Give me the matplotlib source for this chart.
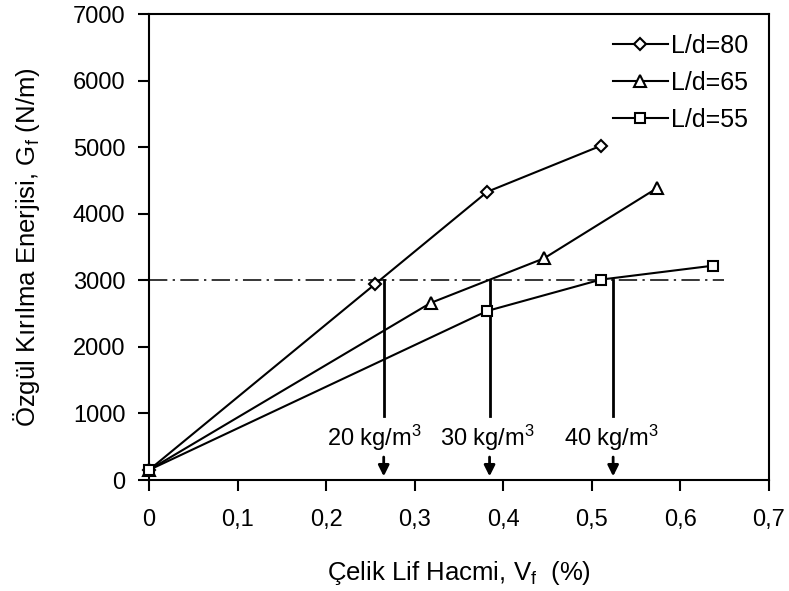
import matplotlib
matplotlib.use("Agg")
import matplotlib.pyplot as plt
from matplotlib.ticker import FixedLocator, FuncFormatter

plt.rcParams['font.family'] = ['Liberation Sans', 'DejaVu Sans']
plt.rcParams['mathtext.fontset'] = 'custom'
plt.rcParams['mathtext.rm'] = 'Liberation Sans'
plt.rcParams['mathtext.it'] = 'Liberation Sans:italic'

# Steel fibre volume fraction (%) and specific fracture energy (N/m)
vf_80 = [0.0, 0.255, 0.382, 0.510]
gf_80 = [150, 2940, 4330, 5020]
vf_65 = [0.0, 0.318, 0.446, 0.573]
gf_65 = [150, 2660, 3330, 4380]
vf_55 = [0.0, 0.382, 0.510, 0.637]
gf_55 = [150, 2540, 3010, 3220]
series_labels = ['L/d=80', 'L/d=65', 'L/d=55']

# Target fracture energy level and the fibre dosages that reach it
target_gf = 3000
dosage_vf = [0.265, 0.3845, 0.524]
dosage_labels = ['20 kg/m$^3$', '30 kg/m$^3$', '40 kg/m$^3$']

x_ticks = [0, 0.1, 0.2, 0.3, 0.4, 0.5, 0.6, 0.7]
y_ticks = [0, 1000, 2000, 3000, 4000, 5000, 6000, 7000]

FS = 17
FS_LABEL = 18.5
FS_LEG = 18

fig = plt.figure(figsize=(7.89, 5.91), dpi=100)
ax = fig.add_axes([0.1888, 0.1878, 0.7859, 0.7885])

mk = dict(color='black', lw=1.5, markerfacecolor='white',
          markeredgecolor='black', markeredgewidth=1.5, clip_on=False, zorder=4)
ax.plot(vf_80, gf_80, marker='D', markersize=6, label=series_labels[0], **mk)
ax.plot(vf_65, gf_65, marker='^', markersize=9, label=series_labels[1], **mk)
ax.plot(vf_55, gf_55, marker='s', markersize=7.5, label=series_labels[2], **mk)

# dash-dot reference level
ax.plot([0, 0.649], [target_gf, target_gf], color='black', lw=1.1,
        linestyle=(0, (12, 3.5, 1.5, 3.5)), zorder=2)

# dosage markers: vertical drop from the reference level to the axis
for xv, lab, dx in zip(dosage_vf, dosage_labels, [-0.011, -0.003, -0.002]):
    ax.plot([xv, xv], [target_gf, 955], color='black', lw=2.0, zorder=3)
    ax.annotate('', xy=(xv, 55), xytext=(xv, 345),
                arrowprops=dict(arrowstyle='-|>', lw=2.0, color='black',
                                mutation_scale=16, shrinkA=0, shrinkB=0),
                zorder=3)
    ax.text(xv + dx, 640, lab, ha='center', va='center', fontsize=FS)

ax.set_xlim(0, 0.7)
ax.set_ylim(0, 7000)
ax.xaxis.set_major_locator(FixedLocator(x_ticks))
ax.yaxis.set_major_locator(FixedLocator(y_ticks))
ax.xaxis.set_major_formatter(FuncFormatter(
    lambda v, p: '0' if abs(v) < 1e-9 else f'{v:.1f}'.replace('.', ',')))
ax.yaxis.set_major_formatter(FuncFormatter(lambda v, p: f'{int(round(v))}'))

for s in ax.spines.values():
    s.set_linewidth(1.5)
ax.tick_params(axis='both', direction='out', length=8, width=1.5,
               labelsize=FS, color='black')
ax.tick_params(axis='x', pad=13)
ax.tick_params(axis='y', pad=9)

ax.set_xlabel('Çelik Lif Hacmi, V$_{\\rm f}$  (%)', fontsize=FS_LABEL, labelpad=20)
ax.set_ylabel('Özgül Kırılma Enerjisi, G$_{\\rm f}$ (N/m)', fontsize=FS_LABEL,
              labelpad=22)

leg = ax.legend(loc='upper right', bbox_to_anchor=(0.99, 0.99), frameon=False,
                fontsize=FS_LEG, handlelength=2.2, handletextpad=0.12,
                labelspacing=0.52, borderaxespad=0.2)

fig.savefig('out.png', dpi=100)
